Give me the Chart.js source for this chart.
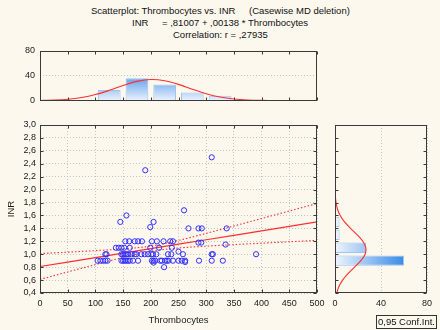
<!DOCTYPE html>
<html><head><meta charset="utf-8">
<script src="https://cdn.jsdelivr.net/npm/chart.js@4.4.1/dist/chart.umd.min.js"></script>
<style>
html,body{margin:0;padding:0;background:#FCF8EE;}
#wrap{position:relative;width:440px;height:330px;overflow:hidden;background:#FCF8EE;font-family:"Liberation Sans",Arial,sans-serif;color:#111;}
.t{position:absolute;font-size:9.5px;white-space:pre;line-height:12px;}
canvas{position:absolute;}
#leg{position:absolute;left:376px;top:315px;width:59px;height:12px;border:1px solid #333;font-size:9.5px;line-height:12px;text-align:center;white-space:pre;}
</style></head><body>
<div id="wrap">
<div class="t" style="left:91px;top:5px">Scatterplot: Thrombocytes vs. INR</div>
<div class="t" style="left:249px;top:5px">(Casewise MD deletion)</div>
<div class="t" style="left:132px;top:17px">INR</div>
<div class="t" style="left:162px;top:17px">= ,81007 + ,00138 * Thrombocytes</div>
<div class="t" style="left:173px;top:29px">Correlation: r = ,27935</div>
<canvas id="cTop" width="325" height="72" style="left:0;top:39px;width:325px;height:72px"></canvas>
<canvas id="cMain" width="330" height="217" style="left:0;top:113px;width:330px;height:217px"></canvas>
<canvas id="cRight" width="120" height="217" style="left:320px;top:113px;width:120px;height:217px"></canvas>
<div id="leg">0,95 Conf.Int.</div>
</div>
<script>
// ---- data ----
const thrombocytes = [
  104,109,114,118,122,147,150,153,156,159,162,168,177,202,205,208,217,220,226,229,232,240,250,256,262,287,310,330,
  205,262,224,
  118,120,147,150,153,156,159,165,171,174,183,189,195,201,204,210,231,237,258,310,312,390,
  250,
  137,142,147,152,162,199,215,238,
  154,161,171,177,184,202,211,223,235,240,286,291,
  335,
  199,268,286,292,337,
  145,205,156,260,190,310
];
const inr = [
  0.9,0.9,0.9,0.9,0.9,0.9,0.9,0.9,0.9,0.9,0.9,0.9,0.9,0.9,0.9,0.9,0.9,0.9,0.9,0.9,0.9,0.9,0.9,0.9,0.9,0.9,0.9,0.9,
  0.87,0.88,0.8,
  1.0,1.0,1.0,1.0,1.0,1.0,1.0,1.0,1.0,1.0,1.0,1.0,1.0,1.0,1.0,1.0,1.0,1.0,1.0,1.0,1.0,1.0,
  1.04,
  1.1,1.1,1.1,1.1,1.1,1.1,1.1,1.1,
  1.2,1.2,1.2,1.2,1.2,1.2,1.2,1.2,1.2,1.2,1.18,1.18,
  1.15,
  1.42,1.4,1.4,1.4,1.4,
  1.5,1.5,1.6,1.68,2.3,2.5
];
// regression line and 0.95 confidence band (read at x = 0, 50, ..., 500)
const fitX     = [0,50,100,150,200,250,300,350,400,450,500];
const fitY     = [0.810,0.879,0.948,1.017,1.086,1.155,1.224,1.293,1.362,1.431,1.500];
const bandUp   = [1.010,1.032,1.056,1.083,1.126,1.214,1.323,1.437,1.553,1.669,1.785];
const bandLow  = [0.610,0.726,0.840,0.951,1.046,1.096,1.125,1.149,1.171,1.193,1.215];
// top histogram (Thrombocytes, bins of 50)
const thrBins   = [25,75,125,175,225,275,325,375,425,475];
const thrCounts = [0,0,17,36,26,13,8,1,0,0];
const thrCurveX = [0,25,50,75,100,125,150,175,200,225,250,275,300,325,350,375,400,425,450,475,500];
const thrCurveY = [0.26,0.8,2.1,4.9,9.7,16.6,24.4,31.0,34.0,32.1,26.2,18.4,11.2,5.8,2.6,1.0,0.34,0.1,0.03,0.01,0];
// right histogram (INR, bins of 0.2)
const inrBins   = [0.5,0.7,0.9,1.1,1.3,1.5,1.7,1.9,2.1,2.3,2.5,2.7,2.9];
const inrCounts = [0,1,60,27,4,4,1,0,0,1,1,0,0];
const inrCurveY = [0.4,0.5,0.6,0.7,0.8,0.9,1.0,1.1,1.2,1.3,1.4,1.5,1.6,1.7,1.8,1.9,2.0,2.1,2.2,2.4,2.6,2.8,3.0];
const inrCurveX = [1.54,3.4,6.6,11.3,17.0,22.5,26.2,26.8,24.2,19.3,13.5,8.3,4.5,2.1,0.9,0.33,0.11,0.03,0,0,0,0,0];
// tick labels
const xTickValues = [0,50,100,150,200,250,300,350,400,450,500];
const xTickLabels = ['0','50','100','150','200','250','300','350','400','450','500'];
const yTickValues = [0.4,0.6,0.8,1.0,1.2,1.4,1.6,1.8,2.0,2.2,2.4,2.6,2.8,3.0];
const yTickLabels = ['0,4','0,6','0,8','1,0','1,2','1,4','1,6','1,8','2,0','2,2','2,4','2,6','2,8','3,0'];
const cntTickValues = [0,40,80];
const cntTickLabels = ['0','40','80'];

Chart.defaults.font.family = '"Liberation Sans", Arial, sans-serif';
Chart.defaults.font.size = 9;
Chart.defaults.color = '#1a1a1a';

const GRID = '#C4C4C4';
const RED = '#FF2E2E';

function lookup(vals, labels, v){
  for (let i=0;i<vals.length;i++) if (Math.abs(vals[i]-v) < 1e-6) return labels[i];
  return '';
}

const framePlugin = {
  id: 'frame',
  afterDraw(chart, args, o) {
    const {ctx, chartArea: a, scales} = chart;
    ctx.save();
    ctx.strokeStyle = '#3a3a3a';
    ctx.lineWidth = 1;
    const L = Math.round(a.left)+0.5, R = Math.round(a.right)-0.5, T = Math.round(a.top)+0.5, B = Math.round(a.bottom)-0.5;
    ctx.beginPath();
    (o.xMarks||[]).forEach(v => {
      const px = Math.round(scales.x.getPixelForValue(v))+0.5;
      ctx.moveTo(px,B); ctx.lineTo(px,B-3); ctx.moveTo(px,T); ctx.lineTo(px,T+3);
    });
    (o.yMarks||[]).forEach(v => {
      const py = Math.round(scales.y.getPixelForValue(v))+0.5;
      ctx.moveTo(L,py); ctx.lineTo(L+3,py); ctx.moveTo(R,py); ctx.lineTo(R-3,py);
    });
    ctx.stroke();
    ctx.strokeRect(L, T, R-L, B-T);
    ctx.restore();
  }
};

// ---- main scatter ----
new Chart(document.getElementById('cMain'), {
  type: 'scatter',
  data: { datasets: [
    { type:'line', data: fitX.map((x,i)=>({x, y: fitY[i]})), borderColor: RED, borderWidth: 1.2, pointRadius: 0, order: 1 },
    { type:'line', data: fitX.map((x,i)=>({x, y: bandUp[i]})), borderColor: RED, borderWidth: 1.1, borderDash:[1.5,2], pointRadius: 0, cubicInterpolationMode:'monotone', order: 1 },
    { type:'line', data: fitX.map((x,i)=>({x, y: bandLow[i]})), borderColor: RED, borderWidth: 1.1, borderDash:[1.5,2], pointRadius: 0, cubicInterpolationMode:'monotone', order: 1 },
    { type:'scatter', data: thrombocytes.map((x,i)=>({x, y: inr[i]})), pointStyle:'circle', pointRadius: 2.6,
      borderColor:'#2E2EFF', backgroundColor:'rgba(0,0,0,0)', borderWidth: 1, order: 0 }
  ]},
  options: {
    responsive:false, animation:false, events: [],
    layout:{ padding:{ top:12, right:13, left:0, bottom:0 } },
    plugins:{ legend:{display:false}, tooltip:{enabled:false},
      frame:{ xMarks: xTickValues, yMarks: yTickValues } },
    scales:{
      x:{ type:'linear', min:0, max:500,
        afterBuildTicks(s){ s.ticks = xTickValues.map(v=>({value:v})); },
        ticks:{ padding:5, maxRotation:0, autoSkip:false, callback:(v)=>lookup(xTickValues,xTickLabels,v) },
        grid:{ color: GRID, drawTicks:false }, border:{ display:false, dash:[1,2] },
        title:{ display:true, text:'Thrombocytes', font:{size:9.5}, padding:{top:0,bottom:4} },
        afterFit(s){ s.height = 37; } },
      y:{ type:'linear', min:0.4, max:3.0,
        afterBuildTicks(s){ s.ticks = yTickValues.map(v=>({value:v})); },
        ticks:{ padding:4, autoSkip:false, callback:(v)=>lookup(yTickValues,yTickLabels,v) },
        grid:{ color: GRID, drawTicks:false }, border:{ display:false, dash:[1,2] },
        title:{ display:true, text:'INR', font:{size:9.5}, padding:{top:6,bottom:0} },
        afterFit(s){ s.width = 40; } }
    }
  },
  plugins:[framePlugin]
});

// ---- top histogram ----
new Chart(document.getElementById('cTop'), {
  type: 'bar',
  data: { datasets: [
    { type:'line', data: thrCurveX.map((x,i)=>({x, y: thrCurveY[i]})), borderColor: RED, borderWidth: 1.1, pointRadius: 0, tension: 0.3, order: 0 },
    { type:'bar', data: thrBins.map((x,i)=>({x, y: thrCounts[i]})), categoryPercentage:1, barPercentage:0.82,
      borderColor:'#9EC4EF', borderWidth:1, borderSkipped:'bottom', order: 1,
      backgroundColor(c){ const ch=c.chart; if(!ch.chartArea) return '#9cc4f0';
        const s=ch.scales.y; const g=ch.ctx.createLinearGradient(0,s.getPixelForValue(0),0,s.getPixelForValue(40));
        g.addColorStop(0,'#EAF2FD'); g.addColorStop(1,'#5A9CEB'); return g; } }
  ]},
  options: {
    responsive:false, animation:false, events: [],
    layout:{ padding:{ top:12, right:8, left:0, bottom:5 } },
    plugins:{ legend:{display:false}, tooltip:{enabled:false},
      frame:{ xMarks: xTickValues } },
    scales:{
      x:{ type:'linear', min:0, max:500, display:false, offset:false, grid:{offset:false} },
      y:{ type:'linear', min:0, max:80,
        afterBuildTicks(s){ s.ticks = cntTickValues.map(v=>({value:v})); },
        ticks:{ padding:5, autoSkip:false, callback:(v)=>lookup(cntTickValues,cntTickLabels,v) },
        grid:{ color: GRID, drawTicks:false }, border:{ display:false, dash:[1,2] },
        afterFit(s){ s.width = 40; } }
    }
  },
  plugins:[framePlugin]
});

// ---- right histogram ----
new Chart(document.getElementById('cRight'), {
  type: 'bar',
  data: { datasets: [
    { type:'line', indexAxis:'y', data: inrCurveY.map((y,i)=>({x: inrCurveX[i], y})), borderColor: RED, borderWidth: 1.1, pointRadius: 0, tension: 0.3, order: 0 },
    { type:'bar', indexAxis:'y', data: inrBins.map((y,i)=>({x: inrCounts[i], y})), categoryPercentage:1, barPercentage:0.8,
      borderColor:'#9EC4EF', borderWidth:1, borderSkipped:'left', order: 1,
      backgroundColor(c){ const ch=c.chart; if(!ch.chartArea) return '#9cc4f0';
        const s=ch.scales.x; const g=ch.ctx.createLinearGradient(s.getPixelForValue(0),0,s.getPixelForValue(60),0);
        g.addColorStop(0,'#EEF5FD'); g.addColorStop(1,'#3A8AE8'); return g; } }
  ]},
  options: {
    indexAxis:'y',
    responsive:false, animation:false, events: [],
    layout:{ padding:{ top:12, right:13, left:15, bottom:0 } },
    plugins:{ legend:{display:false}, tooltip:{enabled:false},
      frame:{ yMarks: yTickValues } },
    scales:{
      x:{ type:'linear', min:0, max:80, position:'bottom', offset:false,
        afterBuildTicks(s){ s.ticks = cntTickValues.map(v=>({value:v})); },
        ticks:{ padding:5, autoSkip:false, maxRotation:0, callback:(v)=>lookup(cntTickValues,cntTickLabels,v) },
        grid:{ color: GRID, drawTicks:false, offset:false }, border:{ display:false, dash:[1,2] },
        afterFit(s){ s.height = 37; } },
      y:{ type:'linear', min:0.4, max:3.0, display:false, offset:false, grid:{offset:false} }
    }
  },
  plugins:[framePlugin]
});
</script>
</body></html>
